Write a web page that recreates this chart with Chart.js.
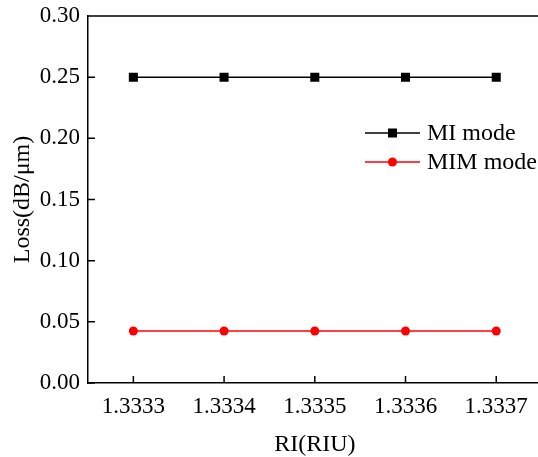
<!DOCTYPE html>
<html>
<head>
<meta charset="utf-8">
<script src="https://cdn.jsdelivr.net/npm/chart.js@4"></script>
<style>
  html, body { margin: 0; padding: 0; background: #fff; overflow: hidden; }
  #wrap { width: 538px; height: 457px; overflow: hidden; }
</style>
</head>
<body>
<div id="wrap"><canvas id="lossChart" width="548" height="457"></canvas></div>
<script>
const riLabels = ['1.3333', '1.3334', '1.3335', '1.3336', '1.3337'];
const miLoss = [0.25, 0.25, 0.25, 0.25, 0.25];
const mimLoss = [0.0425, 0.0425, 0.0425, 0.0425, 0.0425];
const yTicks = [0, 0.05, 0.10, 0.15, 0.20, 0.25, 0.30];

const FONT = '"Liberation Serif", "Times New Roman", serif';

// inside ticks, top border and legend
const framePlugin = {
  id: 'frame',
  afterDraw(chart) {
    const ctx = chart.ctx;
    const area = chart.chartArea;
    const xs = chart.scales.x;
    const ys = chart.scales.y;
    ctx.save();
    ctx.strokeStyle = '#000';
    ctx.lineWidth = 1.5;
    ctx.beginPath();
    ctx.moveTo(area.left, area.top);
    ctx.lineTo(area.right + 2, area.top);
    yTicks.forEach(v => {
      const py = ys.getPixelForValue(v);
      ctx.moveTo(area.left, py);
      ctx.lineTo(area.left + 7, py);
    });
    riLabels.forEach((l, i) => {
      const px = xs.getPixelForValue(i);
      ctx.moveTo(px, area.bottom);
      ctx.lineTo(px, area.bottom - 7);
    });
    ctx.stroke();

    // legend
    const items = [
      { text: 'MI mode', color: '#000', style: 'rect', y: 133 },
      { text: 'MIM mode', color: '#ff0000', style: 'circle', y: 162 }
    ];
    ctx.font = '24px ' + FONT;
    ctx.textBaseline = 'middle';
    items.forEach(it => {
      ctx.strokeStyle = it.color;
      ctx.fillStyle = it.color;
      ctx.lineWidth = 1.5;
      ctx.beginPath();
      ctx.moveTo(365, it.y);
      ctx.lineTo(420, it.y);
      ctx.stroke();
      if (it.style === 'rect') {
        ctx.fillRect(388, it.y - 4.5, 9, 9);
      } else {
        ctx.beginPath();
        ctx.arc(392.5, it.y, 4.5, 0, Math.PI * 2);
        ctx.fill();
      }
      ctx.fillStyle = '#000';
      ctx.fillText(it.text, 427, it.y + 1);
    });
    ctx.restore();
  }
};

new Chart(document.getElementById('lossChart').getContext('2d'), {
  type: 'line',
  data: {
    labels: riLabels,
    datasets: [{
      label: 'MI mode',
      data: miLoss,
      borderColor: '#000',
      backgroundColor: '#000',
      borderWidth: 1.5,
      pointStyle: 'rect',
      pointRadius: 6.4,
      pointHoverRadius: 6.4,
      pointBorderWidth: 0
    }, {
      label: 'MIM mode',
      data: mimLoss,
      borderColor: '#ff0000',
      backgroundColor: '#ff0000',
      borderWidth: 1.5,
      pointStyle: 'circle',
      pointRadius: 4.5,
      pointHoverRadius: 4.5,
      pointBorderWidth: 0
    }]
  },
  options: {
    responsive: false,
    animation: false,
    layout: { padding: { top: 16, right: 6, left: 0, bottom: 0 } },
    plugins: {
      legend: { display: false },
      tooltip: { enabled: false }
    },
    scales: {
      x: {
        type: 'category',
        offset: true,
        grid: { display: false, drawTicks: false },
        border: { display: true, color: '#000', width: 1.5 },
        ticks: {
          color: '#000',
          padding: 10,
          font: { family: FONT, size: 23 }
        },
        title: {
          display: true,
          text: 'RI(RIU)',
          color: '#000',
          font: { family: FONT, size: 24 },
          padding: { top: 7, bottom: -2 }
        },
        afterFit(s) { s.height = 74; s.paddingLeft = 0; s.paddingRight = 0; }
      },
      y: {
        min: 0,
        max: 0.30,
        grid: { display: false, drawTicks: false },
        border: { display: true, color: '#000', width: 1.5 },
        afterBuildTicks(s) { s.ticks = yTicks.map(v => ({ value: v })); },
        ticks: {
          color: '#000',
          padding: 8,
          font: { family: FONT, size: 23 },
          callback: v => v.toFixed(2)
        },
        title: {
          display: true,
          text: 'Loss(dB/μm)',
          color: '#000',
          font: { family: FONT, size: 24 },
          padding: { top: 8, bottom: 2 }
        },
        afterFit(s) { s.width = 88; s.paddingTop = 0; s.paddingBottom = 0; }
      }
    }
  },
  plugins: [framePlugin]
});
</script>
</body>
</html>
